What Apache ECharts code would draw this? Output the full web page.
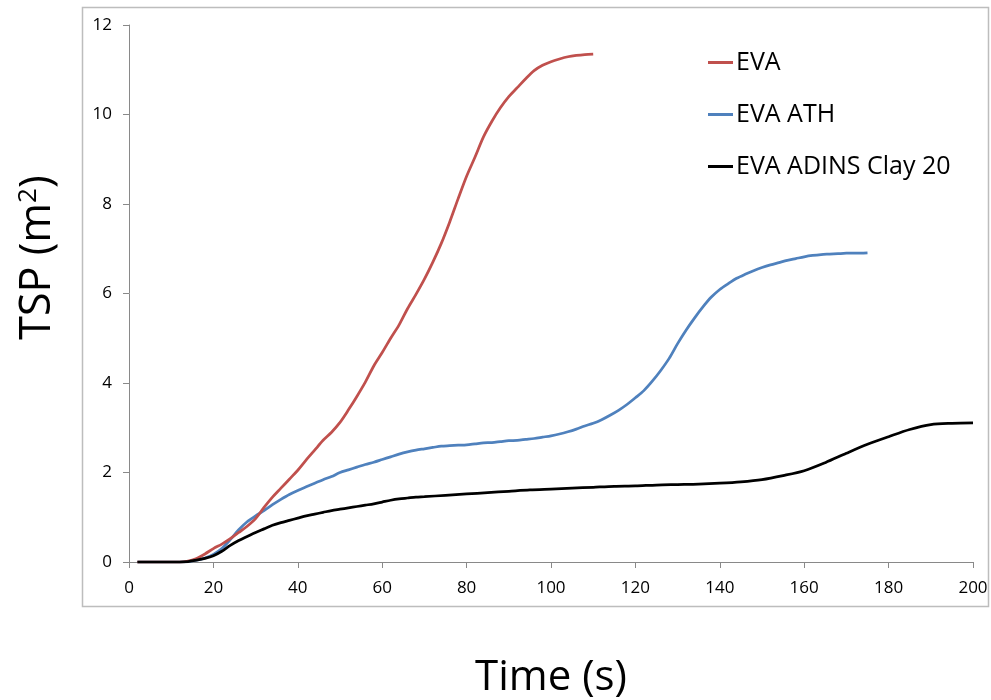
<!DOCTYPE html>
<html>
<head>
<meta charset="utf-8">
<script src="https://cdn.jsdelivr.net/npm/echarts@6/dist/echarts.min.js"></script>
<style>
  html, body { margin: 0; padding: 0; background: #fff; }
  #chart { width: 991px; height: 700px; }
</style>
</head>
<body>
<div id="chart"></div>
<script>
// time (s) and TSP (m2)
var evaTime = [2, 4, 6, 8, 10, 12, 14, 16, 18, 20, 22, 24, 26, 28, 30, 32, 34, 36, 38, 40, 42, 44, 46, 48, 50, 52, 54, 56, 58, 60, 62, 64, 66, 68, 70, 72, 74, 76, 78, 80, 82, 84, 86, 88, 90, 92, 94, 96, 98, 100, 102, 104, 106, 108, 110];
var evaTsp = [0, 0, 0, 0, 0, 0, 0.02, 0.08, 0.18, 0.3, 0.4, 0.52, 0.66, 0.8, 0.97, 1.22, 1.45, 1.65, 1.85, 2.05, 2.28, 2.5, 2.72, 2.9, 3.12, 3.4, 3.7, 4.02, 4.38, 4.68, 5.0, 5.3, 5.66, 5.98, 6.32, 6.7, 7.12, 7.6, 8.12, 8.62, 9.05, 9.5, 9.85, 10.15, 10.4, 10.6, 10.8, 10.98, 11.1, 11.18, 11.24, 11.29, 11.32, 11.34, 11.35];

var athTime = [2, 4, 6, 8, 10, 12, 14, 16, 18, 20, 22, 24, 26, 28, 30, 32, 34, 36, 38, 40, 42, 44, 46, 48, 50, 52, 54, 56, 58, 60, 62, 64, 66, 68, 70, 72, 74, 76, 78, 80, 82, 84, 86, 88, 90, 92, 94, 96, 98, 100, 102, 104, 106, 108, 110, 112, 114, 116, 118, 120, 122, 124, 126, 128, 130, 132, 134, 136, 138, 140, 142, 144, 146, 148, 150, 152, 154, 156, 158, 160, 162, 164, 166, 168, 170, 172, 175];
var athTsp = [0, 0, 0, 0, 0, 0, 0.01, 0.04, 0.09, 0.17, 0.3, 0.5, 0.72, 0.9, 1.03, 1.15, 1.28, 1.4, 1.51, 1.6, 1.68, 1.76, 1.84, 1.91, 2.0, 2.06, 2.12, 2.18, 2.23, 2.29, 2.35, 2.41, 2.46, 2.5, 2.53, 2.56, 2.59, 2.6, 2.61, 2.62, 2.64, 2.66, 2.67, 2.69, 2.71, 2.72, 2.74, 2.76, 2.79, 2.82, 2.86, 2.91, 2.97, 3.04, 3.1, 3.18, 3.28, 3.39, 3.52, 3.67, 3.83, 4.04, 4.28, 4.55, 4.88, 5.18, 5.45, 5.7, 5.92, 6.09, 6.22, 6.34, 6.43, 6.51, 6.58, 6.64, 6.69, 6.74, 6.78, 6.82, 6.85, 6.87, 6.88, 6.89, 6.9, 6.9, 6.91];

var clayTime = [2, 4, 6, 8, 10, 12, 14, 16, 18, 20, 22, 24, 26, 28, 30, 32, 34, 36, 38, 40, 42, 44, 46, 48, 50, 52, 54, 56, 58, 60, 62, 64, 66, 68, 70, 75, 80, 85, 90, 95, 100, 105, 110, 115, 120, 125, 130, 135, 140, 145, 150, 155, 160, 165, 170, 175, 180, 185, 190, 195, 200];
var clayTsp = [0, 0, 0, 0, 0, 0, 0.01, 0.04, 0.08, 0.14, 0.24, 0.37, 0.48, 0.57, 0.66, 0.74, 0.82, 0.88, 0.93, 0.98, 1.03, 1.07, 1.11, 1.15, 1.18, 1.21, 1.24, 1.27, 1.3, 1.34, 1.38, 1.41, 1.43, 1.45, 1.46, 1.49, 1.52, 1.55, 1.58, 1.61, 1.63, 1.65, 1.67, 1.69, 1.7, 1.72, 1.73, 1.74, 1.76, 1.79, 1.84, 1.93, 2.04, 2.22, 2.43, 2.63, 2.8, 2.96, 3.07, 3.1, 3.11];

var seriesNames = ['EVA', 'EVA ATH', 'EVA ADINS Clay 20'];
var seriesColors = ['#C0504D', '#4F81BD', '#000000'];

function pairs(xs, ys) {
    var out = [];
    for (var i = 0; i < xs.length; i++) out.push([xs[i], ys[i]]);
    return out;
}

var myChart = echarts.init(document.getElementById('chart'));

var axisGray = '#898989';
var labelFont = '"Open Sans", "Noto Sans", sans-serif';

var option = {
    animation: false,
    backgroundColor: '#fff',
    graphic: [
        {
            type: 'rect',
            shape: { x: 82.5, y: 7.5, width: 906, height: 599 },
            style: { fill: 'none', stroke: '#BDBDBD', lineWidth: 1.5 },
            z: -1
        }
    ],
    grid: { left: 129, right: 18, top: 25, bottom: 138, outerBoundsMode: 'none' },
    legend: {
        orient: 'vertical',
        left: 703,
        top: 45,
        itemGap: 27,
        itemWidth: 25,
        itemHeight: 3,
        icon: 'rect',
        textStyle: { fontFamily: labelFont, fontSize: 25, color: '#000', padding: [0, 0, 0, -2] },
        data: seriesNames
    },
    xAxis: {
        type: 'value',
        min: 0,
        max: 200,
        interval: 20,
        name: 'Time (s)',
        nameLocation: 'middle',
        nameGap: 95,
        nameTextStyle: { fontFamily: labelFont, fontSize: 42, color: '#000' },
        splitLine: { show: false },
        axisLine: { lineStyle: { color: axisGray, width: 1 } },
        axisTick: { show: true, length: 6, lineStyle: { color: axisGray } },
        axisLabel: { fontFamily: labelFont, fontSize: 17, color: '#000', margin: 18 }
    },
    yAxis: {
        type: 'value',
        min: 0,
        max: 12,
        interval: 2,
        name: 'TSP (m{sup|2})',
        nameLocation: 'middle',
        nameRotate: 90,
        nameGap: 70,
        nameTextStyle: {
            fontFamily: labelFont,
            fontSize: 43,
            color: '#000',
            padding: [0, 0, 0, 72],
            rich: {
                sup: { fontFamily: labelFont, fontSize: 26, color: '#000', verticalAlign: 'top', padding: [0, 0, 16, 0] }
            }
        },
        splitLine: { show: false },
        axisLine: { show: true, lineStyle: { color: axisGray, width: 1 } },
        axisTick: { show: true, length: 6, lineStyle: { color: axisGray } },
        axisLabel: { fontFamily: labelFont, fontSize: 17, color: '#000', margin: 17 }
    },
    series: [
        {
            name: seriesNames[0],
            type: 'line',
            data: pairs(evaTime, evaTsp),
            showSymbol: false,
            smooth: 0.3,
            color: seriesColors[0],
            lineStyle: { width: 2.75 },
            z: 3
        },
        {
            name: seriesNames[1],
            type: 'line',
            data: pairs(athTime, athTsp),
            showSymbol: false,
            smooth: 0.3,
            color: seriesColors[1],
            lineStyle: { width: 2.75 },
            z: 2
        },
        {
            name: seriesNames[2],
            type: 'line',
            data: pairs(clayTime, clayTsp),
            showSymbol: false,
            smooth: 0.3,
            color: seriesColors[2],
            lineStyle: { width: 2.75 },
            z: 4
        }
    ]
};

myChart.setOption(option);
</script>
</body>
</html>
